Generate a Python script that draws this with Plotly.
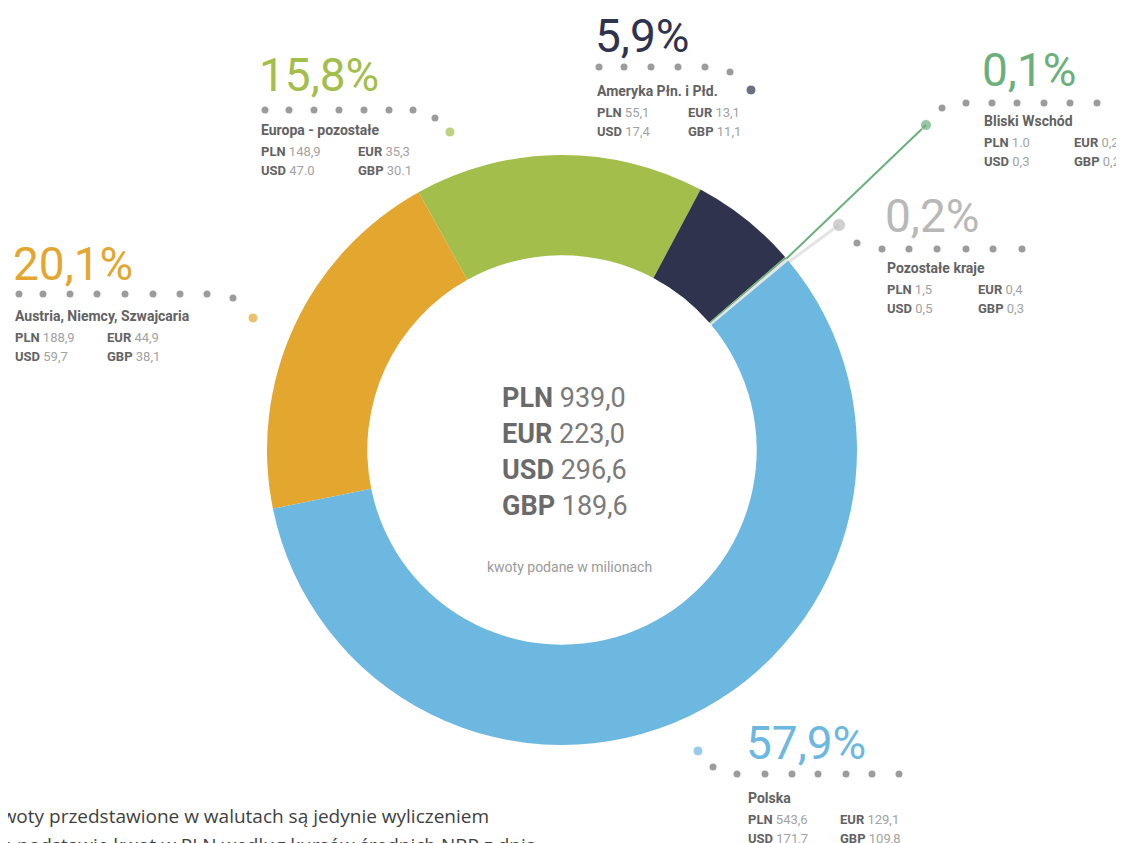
import plotly.graph_objects as go

# ---------------- data ----------------
regions = ["Austria, Niemcy, Szwajcaria", "Europa - pozostałe", "Ameryka Płn. i Płd.",
           "Bliski Wschód", "Pozostałe kraje", "Polska"]
pct_labels = ["20,1%", "15,8%", "5,9%", "0,1%", "0,2%", "57,9%"]
pln = [188.9, 148.9, 55.1, 1.0, 1.5, 543.6]
pln_txt = ["188,9", "148,9", "55,1", "1.0", "1,5", "543,6"]
eur_txt = ["44,9", "35,3", "13,1", "0,2", "0,4", "129,1"]
usd_txt = ["59,7", "47.0", "17,4", "0,3", "0,5", "171,7"]
gbp_txt = ["38,1", "30.1", "11,1", "0,2", "0,3", "109,8"]
slice_colors = ["#E3A730", "#A3BE4B", "#2F334D", "#6BAF7B", "#E4E4E4", "#6DB8E0"]
pct_colors = ["#E3A730", "#A3BE4B", "#2F334D", "#6BAF7B", "#B8B8B8", "#6DB8E0"]
total_cur = ["PLN", "EUR", "USD", "GBP"]
total_val = ["939,0", "223,0", "296,6", "189,6"]

# page is 1124x843 but the browser's body margin shifts the figure by 8px
O = 8
PW, PH = 1124, 843
W, H = PW - O, PH - O
CX, CY, R = 562, 450, 295

# label block layout (left x, percent y, name y, col2 x)
blocks = [
    (13, 264, 316, 105),
    (259, 75, 130, 356),
    (595, 36, 91, 686),
    (982, 70, 121, 1072),
    (885, 216, 268, 976),
    (746, 743, 798, 838),
]

# dotted leaders: grey dots and coloured end dot
grey_dots = [
    [(19, 294), (43, 294), (70, 294), (97, 294), (125, 294), (153, 294), (180, 294), (207, 294), (233, 298)],
    [(265, 110), (289, 110), (314, 110), (339, 110), (364, 110), (389, 110), (413, 110), (435, 118)],
    [(599, 67), (624, 67), (651, 67), (678, 67), (705, 67), (730, 72)],
    [(942, 108), (966, 103), (992, 103), (1017, 103), (1044, 103), (1070, 103), (1097, 103), (1122, 103)],
    [(857, 243), (882, 249), (909, 249), (937, 249), (966, 249), (993, 249), (1022, 249)],
    [(713, 767), (737, 774), (765, 774), (792, 774), (818, 774), (846, 774), (872, 774), (899, 774)],
]
end_dots = [(253, 318), (450, 132), (751, 90), (926, 125), (839, 225), (698, 751)]
end_dot_colors = ["#E3A730", "#A3BE4B", "#2F334D", "#6BAF7B", "#BDBDBD", "#6DB8E0"]

fig = go.Figure()

fig.add_trace(go.Pie(
    labels=regions, values=pln, sort=False, direction="clockwise", rotation=258.5,
    hole=0.66, marker=dict(colors=slice_colors, line=dict(width=0)),
    textinfo="none", hoverinfo="label+percent", showlegend=False,
    domain=dict(x=[(CX - R - O) / W, (CX + R - O) / W],
                y=[(PH - CY - R) / H, (PH - CY + R) / H]),
))

# leader lines for the two tiny slices
fig.add_trace(go.Scatter(x=[784, 926], y=[261, 125], mode="lines",
                         line=dict(color="#6BAF7B", width=2), hoverinfo="skip", showlegend=False))
fig.add_trace(go.Scatter(x=[786, 839], y=[264, 225], mode="lines",
                         line=dict(color="#E4E4E4", width=3), hoverinfo="skip", showlegend=False))

gx = [p[0] for g in grey_dots for p in g]
gy = [p[1] for g in grey_dots for p in g]
fig.add_trace(go.Scatter(x=gx, y=gy, mode="markers",
                         marker=dict(color="#9C9C9C", size=7), hoverinfo="skip", showlegend=False))
fig.add_trace(go.Scatter(x=[p[0] for p in end_dots], y=[p[1] for p in end_dots], mode="markers",
                         marker=dict(color=end_dot_colors, size=[10, 10, 10, 11, 13, 10]),
                         hoverinfo="skip", showlegend=False))

PCT_FONT = "Roboto, sans-serif"
LBL_FONT = "Roboto, sans-serif"
DARK = "#626262"
LIGHT = "#A2A2A2"

anns = []
for i, (lx, py, ny, c2) in enumerate(blocks):
    anns.append(dict(x=lx - 2, y=py, text=pct_labels[i], xanchor="left", yanchor="middle",
                     font=dict(family=PCT_FONT, size=46, color=pct_colors[i])))
    anns.append(dict(x=lx, y=ny, text="<b>" + regions[i] + "</b>", xanchor="left", yanchor="middle",
                     font=dict(family=LBL_FONT, size=14, color=DARK)))
    rows = [(ny + 21, "PLN", pln_txt[i], "EUR", eur_txt[i]),
            (ny + 40, "USD", usd_txt[i], "GBP", gbp_txt[i])]
    for ry, a, av, b, bv in rows:
        anns.append(dict(x=lx, y=ry,
                         text=f"<b>{a}</b> <span style='color:{LIGHT}'>{av}</span>",
                         xanchor="left", yanchor="middle",
                         font=dict(family=LBL_FONT, size=13, color=DARK)))
        anns.append(dict(x=c2, y=ry,
                         text=f"<b>{b}</b> <span style='color:{LIGHT}'>{bv}</span>",
                         xanchor="left", yanchor="middle",
                         font=dict(family=LBL_FONT, size=13, color=DARK)))

# centre totals
for k, (c, v) in enumerate(zip(total_cur, total_val)):
    anns.append(dict(x=500, y=398 + k * 36,
                     text=f"<b>{c}</b> <span style='color:#7A7A7A'>{v}</span>",
                     xanchor="left", yanchor="middle",
                     font=dict(family=LBL_FONT, size=27, color="#6A6A6A")))
anns.append(dict(x=569, y=567, text="kwoty podane w milionach", xanchor="center", yanchor="middle",
                 font=dict(family=LBL_FONT, size=14, color="#9A9A9A")))

for a in anns:
    a.update(xref="x", yref="y", showarrow=False)

# footnote (cut off by the page edge) in paper coordinates
def px(xp):
    return (xp - O) / W

def py_(yp):
    return (PH - yp) / H

anns.append(dict(x=px(-12), y=py_(816), xref="paper", yref="paper", showarrow=False,
                 text="Kwoty przedstawione w walutach są jedynie wyliczeniem",
                 xanchor="left", yanchor="middle",
                 font=dict(family="Open Sans, sans-serif", size=19, color="#3F3F3F")))
anns.append(dict(x=px(-12), y=py_(845), xref="paper", yref="paper", showarrow=False,
                 text="na podstawie kwot w PLN według kursów średnich NBP z dnia",
                 xanchor="left", yanchor="middle",
                 font=dict(family="Open Sans, sans-serif", size=19, color="#3F3F3F")))

fig.update_layout(
    width=W, height=H, margin=dict(l=0, r=0, t=0, b=0),
    paper_bgcolor="white", plot_bgcolor="rgba(0,0,0,0)",
    xaxis=dict(range=[O, PW], visible=False, fixedrange=True),
    yaxis=dict(range=[PH, O], visible=False, fixedrange=True),
    annotations=anns, showlegend=False,
)

fig.write_html("out.html")
